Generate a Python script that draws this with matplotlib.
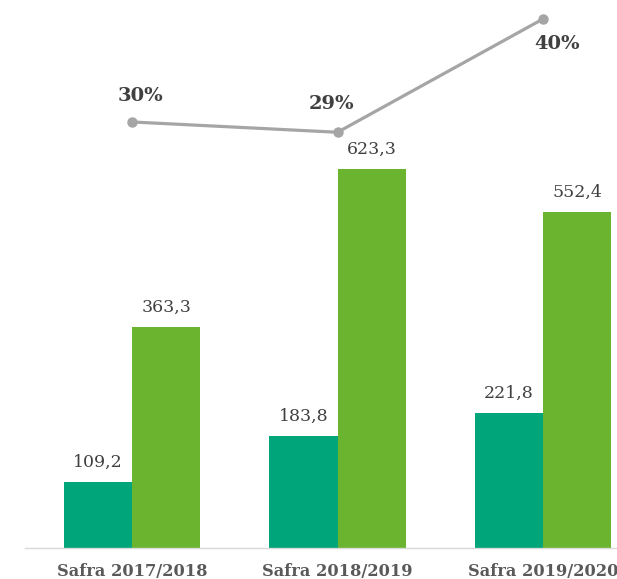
import matplotlib
matplotlib.use("Agg")
import matplotlib.pyplot as plt
import numpy as np

# Harvest data
safras = ["Safra 2017/2018", "Safra 2018/2019", "Safra 2019/2020"]
serie_a = [109.2, 183.8, 221.8]
serie_b = [363.3, 623.3, 552.4]
percentual = [30, 29, 40]

cor_a = "#00A57A"
cor_b = "#6AB42F"
cor_linha = "#A5A5A5"
cor_texto = "#404040"

plt.rcParams["font.family"] = ["DejaVu Serif"]

W, H = 617, 579
fig = plt.figure(figsize=(W / 100, H / 100), dpi=100)

left_px, right_px, bottom_px, top_px = 25, 617, 548, 0
ax = fig.add_axes([left_px / W, 1 - bottom_px / H,
                   (right_px - left_px) / W, (bottom_px - top_px) / H])

x = np.arange(len(safras))
bw = 0.333
ax.bar(x - bw / 2, serie_a, bw, color=cor_a, zorder=2)
ax.bar(x + bw / 2, serie_b, bw, color=cor_b, zorder=2)

for xi, v in zip(x, serie_a):
    ax.annotate(f"{v:.1f}".replace(".", ","), (xi - bw / 2, v),
                xytext=(0, 8), textcoords="offset points",
                ha="center", va="bottom", fontsize=12.5, color=cor_texto)
for xi, v in zip(x, serie_b):
    ax.annotate(f"{v:.1f}".replace(".", ","), (xi + bw / 2, v),
                xytext=(0, 8), textcoords="offset points",
                ha="center", va="bottom", fontsize=12.5, color=cor_texto)

ax.set_xlim(-0.521, 2.360)
ax.set_ylim(0, 901)
ax.set_xticks(x)
ax.set_xticklabels(safras, fontsize=11.7, fontweight="bold", color="#595959")
ax.tick_params(axis="x", length=0, pad=11)
ax.set_yticks([])
for s in ["top", "right", "left"]:
    ax.spines[s].set_visible(False)
ax.spines["bottom"].set_color("#D9D9D9")
ax.spines["bottom"].set_linewidth(1)

ax2 = ax.twinx()
ax2.plot(x, percentual, color=cor_linha, lw=2.3, marker="o", ms=6.5,
         zorder=3, solid_capstyle="round")
ax2.set_ylim(-11.36, 41.84)
ax2.set_yticks([])
for s in ax2.spines.values():
    s.set_visible(False)

offsets = [(6, 19), (-4, 20), (10, -18)]
for xi, v, off in zip(x, percentual, offsets):
    ax2.annotate(f"{v}%", (xi, v), xytext=off, textcoords="offset points",
                 ha="center", va="center", fontsize=14, fontweight="bold",
                 color=cor_texto)

fig.savefig("out.png", dpi=100)
